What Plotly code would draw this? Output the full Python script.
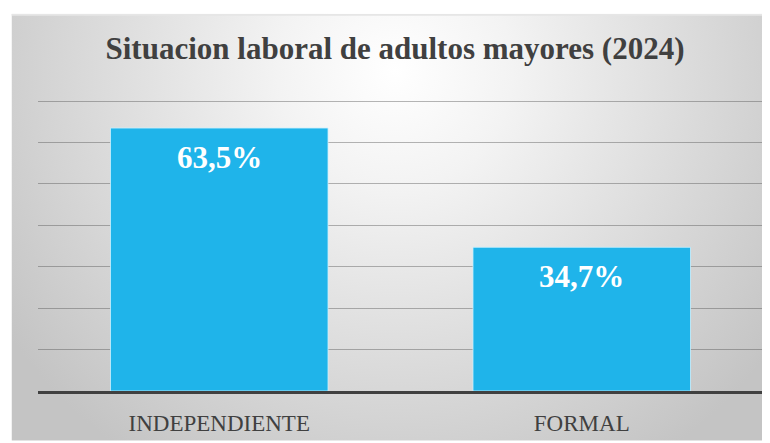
import base64
import plotly.graph_objects as go

# ---- data ----
categories = ["INDEPENDIENTE", "FORMAL"]
values = [63.5, 34.7]
value_labels = ["63,5%", "34,7%"]
title_text = "Situacion laboral de adultos mayores (2024)"

# page has 8px body margin, so figure is 8px smaller and offset
OFF = 8
W, H = 770 - OFF, 443 - OFF
YMAX = 71
L, R = 29.5, 7
B = 50
plot_h = 292 * YMAX / 70
T = H - B - plot_h
plot_w = W - L - R

# background radial gradient panel (screen box 11..770 x 13..443)
px0, py0, px1, py1 = 11 - OFF, 13 - OFF, 770 - OFF, 443 - OFF
gw, gh = px1 - px0, py1 - py0
svg = f'''<svg xmlns="http://www.w3.org/2000/svg" width="{gw}" height="{gh}" viewBox="0 0 {gw} {gh}">
<defs><radialGradient id="g" gradientUnits="userSpaceOnUse" cx="{395-11}" cy="{70-13}" r="470">
<stop offset="0" stop-color="#ffffff"/><stop offset="0.25" stop-color="#f3f3f3"/>
<stop offset="1" stop-color="#c4c4c4"/></radialGradient></defs>
<rect x="0" y="0" width="{gw}" height="{gh}" fill="url(#g)"/>
<rect x="0" y="0" width="{gw}" height="2" fill="#e6e6e6"/>
</svg>'''
src = "data:image/svg+xml;base64," + base64.b64encode(svg.encode()).decode()

def to_px_x(p):
    return (p - L) / plot_w
def to_px_y(p):
    return (H - B - p) / plot_h

fig = go.Figure()
fig.add_trace(go.Bar(
    x=categories, y=values,
    marker=dict(color="#1FB4EA", line=dict(color="rgba(200,240,255,0.8)", width=1)),
    width=0.6, hoverinfo="skip",
))

for c, v, lab in zip(categories, values, value_labels):
    fig.add_annotation(x=c, y=v, text=lab, showarrow=False, yanchor="middle", yshift=-29,
                       font=dict(family="Liberation Serif", size=31, color="white", weight="bold"))

fig.add_layout_image(dict(
    source=src, xref="paper", yref="paper",
    x=to_px_x(px0), y=to_px_y(py0), sizex=gw / plot_w, sizey=gh / plot_h,
    xanchor="left", yanchor="top", sizing="stretch", layer="below",
))

fig.update_layout(
    width=W, height=H,
    margin=dict(l=L, r=R, t=T, b=B, pad=0),
    paper_bgcolor="white", plot_bgcolor="rgba(0,0,0,0)",
    showlegend=False,
    title=dict(text=title_text, x=(395 - OFF) / W, xref="container", xanchor="center",
               y=1 - (48 - OFF) / H, yanchor="middle", yref="container",
               font=dict(family="Liberation Serif", size=31, color="#404040", weight="bold")),
)
fig.update_xaxes(showline=True, linecolor="#404040", linewidth=3, ticks="", showgrid=False,
                 tickfont=dict(family="Liberation Serif", size=23, color="#404040"),
                 ticklabelstandoff=9)
fig.update_yaxes(range=[0, YMAX], dtick=10, showgrid=True, gridcolor="rgba(80,80,80,0.42)",
                 gridwidth=1, showticklabels=False, zeroline=False, showline=False)

fig.write_html("out.html")
